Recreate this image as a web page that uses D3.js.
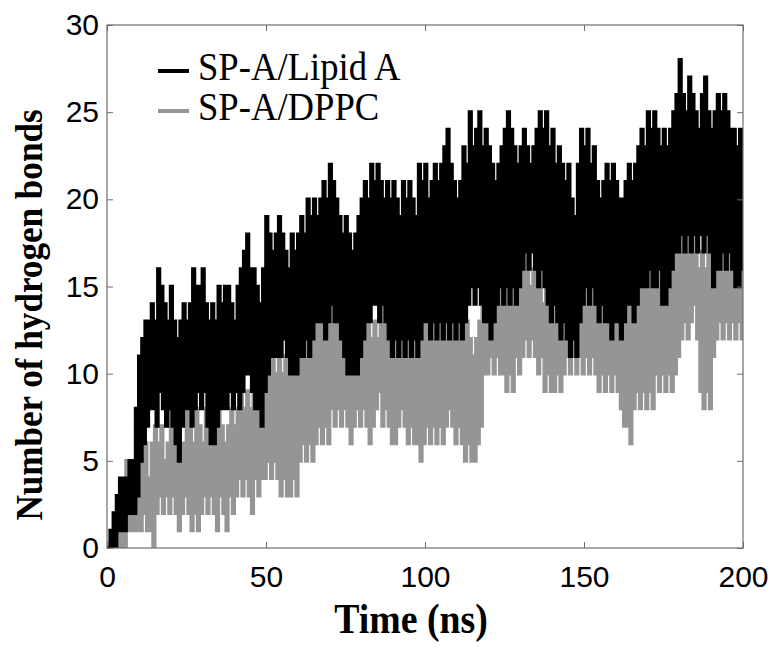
<!DOCTYPE html>
<html><head><meta charset="utf-8">
<script src="https://cdn.jsdelivr.net/npm/d3@7/dist/d3.min.js"></script>
<style>body{margin:0;background:#fff}</style>
</head><body><svg id="c" width="778" height="648"></svg>
<script>
const timeStep = 0.5;
const lipidA = [
 0,0, 1,0, 2,0, 3,1, 4,1, 4,1, 4,2, 5,2, 5,2, 8,3,
 11,5, 12,6, 13,7, 13,8, 14,8, 13,7, 16,9, 15,8, 14,7, 13,8,
 15,7, 13,6, 12,5, 13,7, 14,8, 13,8, 14,7, 16,8, 15,9, 15,8,
 16,9, 14,7, 13,6, 14,6, 13,7, 15,8, 14,8, 15,8, 15,9, 14,8,
 13,9, 15,8, 16,9, 17,10, 18,10, 16,9, 16,8, 15,8, 14,7, 16,9,
 19,10, 18,11, 17,11, 18,11, 19,11, 18,12, 17,11, 16,10, 18,10, 17,10,
 18,11, 19,11, 18,12, 20,11, 19,12, 20,13, 19,13, 20,13, 21,12, 20,13,
 22,14, 21,13, 20,13, 19,12, 18,11, 19,10, 18,10, 17,10, 18,10, 19,11,
 20,12, 21,13, 20,13, 22,14, 21,14, 22,13, 21,14, 20,13, 21,12, 20,11,
 21,12, 20,11, 19,12, 21,11, 20,12, 21,11, 20,12, 19,11, 22,12, 21,13,
 22,13, 20,12, 21,13, 22,12, 21,13, 22,12, 23,13, 24,12, 22,13, 21,12,
 20,13, 21,12, 23,13, 22,14, 25,15, 23,14, 24,15, 25,14, 23,13, 24,13,
 23,12, 22,13, 21,14, 22,15, 23,14, 24,15, 25,14, 24,15, 23,14, 22,15,
 23,16, 24,17, 23,16, 22,17, 23,16, 24,15, 25,16, 24,15, 25,14, 23,13,
 24,14, 22,13, 23,12, 22,13, 21,12, 22,11, 20,12, 19,11, 22,13, 24,14,
 23,15, 24,14, 22,15, 23,14, 21,13, 20,14, 21,13, 22,13, 21,12, 22,13,
 21,13, 20,12, 20,13, 21,14, 22,14, 21,13, 22,14, 23,15, 24,15, 23,15,
 25,16, 24,15, 25,15, 24,16, 23,14, 24,14, 23,15, 24,16, 25,17, 26,17,
 28,18, 26,17, 25,18, 27,17, 26,18, 25,17, 24,18, 26,17, 27,18, 25,17,
 24,15, 25,16, 26,16, 25,17, 26,16, 25,17, 24,16, 24,15, 23,15, 24,16,
 22,17
];
const dppc = [
 0,0, 0,0, 0,0, 0,0, 1,0, 2,0, 5,1, 3,1, 3,1, 2,1,
 3,1, 5,2, 6,1, 4,1, 6,0, 7,2, 6,3, 7,2, 5,3, 6,2,
 8,3, 6,2, 7,1, 5,2, 6,3, 8,2, 7,1, 6,2, 8,1, 7,2,
 6,3, 8,2, 7,3, 6,2, 7,1, 8,3, 7,2, 6,1, 7,3, 8,2,
 7,3, 8,4, 9,3, 8,4, 9,3, 8,2, 9,4, 10,3, 9,4, 11,4,
 12,5, 11,4, 12,5, 10,4, 11,3, 10,4, 11,3, 10,3, 11,4, 12,3,
 11,5, 12,6, 13,5, 12,6, 13,5, 12,6, 13,7, 14,6, 13,7, 12,6,
 13,8, 14,7, 13,8, 12,7, 13,8, 12,7, 13,6, 12,7, 13,8, 14,7,
 13,8, 14,7, 13,6, 12,7, 13,8, 12,9, 13,7, 14,8, 13,7, 12,6,
 13,6, 12,7, 11,8, 12,7, 13,6, 12,7, 11,6, 12,6, 11,5, 12,6,
 13,7, 12,6, 13,7, 12,6, 13,7, 14,6, 13,7, 15,8, 14,7, 13,6,
 14,7, 13,6, 12,5, 13,6, 12,5, 11,5, 12,6, 13,7, 14,10, 15,10,
 14,11, 15,10, 16,11, 15,10, 16,10, 15,9, 16,10, 15,9, 16,11, 17,10,
 16,11, 17,12, 16,11, 15,12, 16,11, 15,10, 16,11, 14,9, 15,10, 14,9,
 15,9, 14,10, 15,9, 14,10, 15,11, 14,10, 15,11, 14,10, 16,11, 15,10,
 16,11, 15,10, 16,11, 15,10, 14,9, 15,10, 14,9, 15,10, 14,9, 15,10,
 14,9, 13,8, 14,7, 13,7, 14,6, 15,8, 14,9, 15,8, 16,9, 15,8,
 16,9, 15,8, 16,10, 15,9, 16,10, 15,9, 16,10, 15,9, 16,10, 17,11,
 18,12, 17,13, 18,12, 19,13, 18,14, 17,12, 16,9, 17,8, 16,9, 18,8,
 17,11, 18,12, 17,13, 16,12, 17,13, 18,12, 17,13, 16,12, 17,13, 15,12,
 16,14
];
const xTicks = [0, 50, 100, 150, 200];
const yTicks = [0, 5, 10, 15, 20, 25, 30];
const seriesNames = ["SP-A/Lipid A", "SP-A/DPPC"];
const seriesColors = ["#000000", "#959595"];
const xTitle = "Time (ns)";
const yTitle = "Number of hydrogen bonds";

const svg = d3.select("#c");
const L = 107, R = 743, T = 25, B = 548;
const x = d3.scaleLinear().domain([0, 200]).range([L, R]);
const y = d3.scaleLinear().domain([0, 30]).range([B, T]);

svg.append("defs").append("clipPath").attr("id", "clip")
  .append("rect").attr("x", L).attr("y", T).attr("width", R - L).attr("height", B - T);

const line = d3.line()
  .x((d, i) => x(i * timeStep))
  .y(d => y(d))
  .curve(d3.curveStepAfter);

const g = svg.append("g").attr("clip-path", "url(#clip)");
g.append("path").datum(dppc).attr("d", line)
  .attr("fill", "none").attr("stroke", seriesColors[1]).attr("stroke-width", 3.6);
g.append("path").datum(lipidA).attr("d", line)
  .attr("fill", "none").attr("stroke", seriesColors[0]).attr("stroke-width", 3.6);

const axCol = "#6e6e6e";
function style(sel) {
  sel.select(".domain").remove();
  sel.selectAll(".tick line").attr("stroke", axCol).attr("stroke-width", 1);
  sel.selectAll(".tick text").attr("fill", "#000")
    .style("font-family", "'Liberation Sans', Arial, sans-serif").style("font-size", "30px");
}
svg.append("g").attr("transform", `translate(0,${B})`)
  .call(d3.axisBottom(x).tickValues(xTicks).tickSizeInner(-6).tickSizeOuter(0).tickPadding(18))
  .call(style);
svg.append("g").attr("transform", `translate(0,${T})`)
  .call(d3.axisTop(x).tickValues(xTicks).tickSizeInner(-6).tickSizeOuter(0).tickFormat(""))
  .call(style);
svg.append("g").attr("transform", `translate(${L},0)`)
  .call(d3.axisLeft(y).tickValues(yTicks).tickSizeInner(-6).tickSizeOuter(0).tickPadding(8))
  .call(style);
svg.append("g").attr("transform", `translate(${R},0)`)
  .call(d3.axisRight(y).tickValues(yTicks).tickSizeInner(-6).tickSizeOuter(0).tickFormat(""))
  .call(style);

svg.append("rect").attr("x", L).attr("y", T).attr("width", R - L).attr("height", B - T)
  .attr("fill", "none").attr("stroke", axCol).attr("stroke-width", 1.2);

// Legend
const leg = svg.append("g");
seriesNames.forEach((n, i) => {
  const yy = 71 + i * 40;
  leg.append("line").attr("x1", 158).attr("x2", 189).attr("y1", yy).attr("y2", yy)
    .attr("stroke", seriesColors[i]).attr("stroke-width", 4);
  leg.append("text").attr("x", 198).attr("y", yy + 9)
    .attr("transform", `translate(198,0) scale(0.94,1) translate(-198,0)`)
    .style("font-family", "'Liberation Serif', 'Times New Roman', serif").style("font-size", "39px")
    .text(n);
});

// Titles
svg.append("text").attr("transform", `translate(411,633) scale(0.9,1)`)
  .attr("text-anchor", "middle")
  .style("font-family", "'Liberation Serif', 'Times New Roman', serif").style("font-weight", "bold").style("font-size", "42px")
  .text(xTitle);
svg.append("text").attr("transform", `translate(42,315) rotate(-90) scale(0.9,1)`)
  .attr("text-anchor", "middle")
  .style("font-family", "'Liberation Serif', 'Times New Roman', serif").style("font-weight", "bold").style("font-size", "39px")
  .text(yTitle);
</script>
</body></html>
